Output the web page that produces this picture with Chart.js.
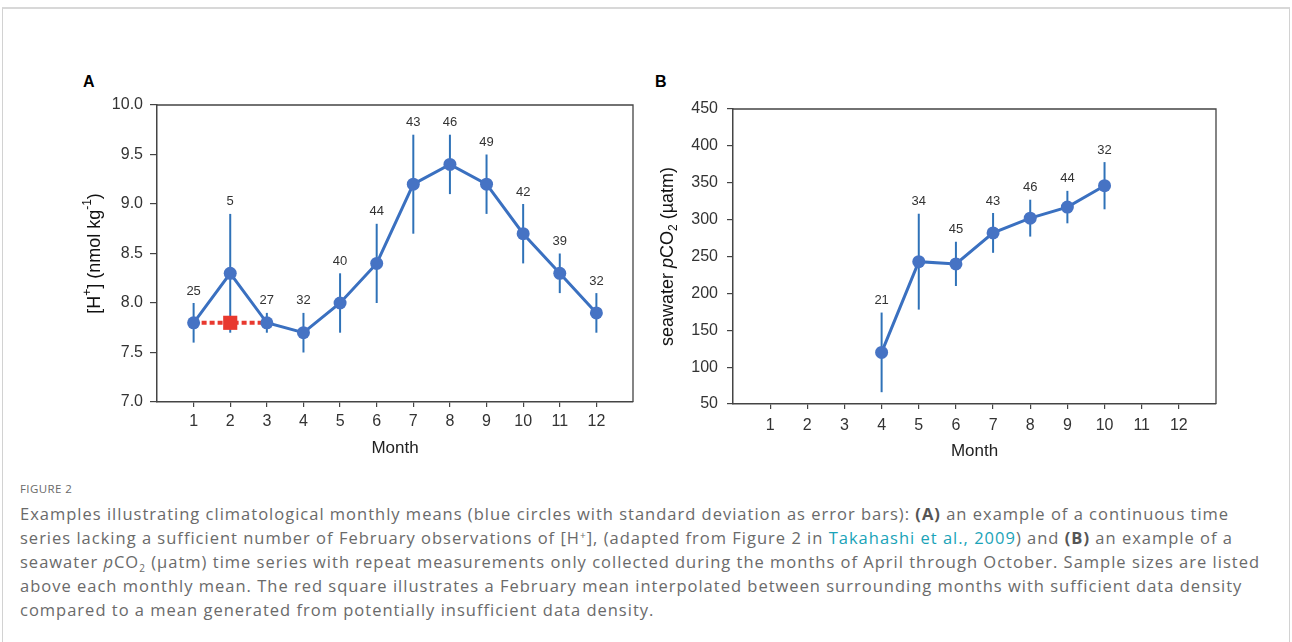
<!DOCTYPE html>
<html>
<head>
<meta charset="utf-8">
<script src="https://cdn.jsdelivr.net/npm/chart.js@4.4.1/dist/chart.umd.min.js"></script>
<style>
  body { margin:0; background:#fff; width:1292px; height:642px; overflow:hidden; position:relative;
         font-family:"Liberation Sans", Arial, sans-serif; }
  .frame { position:absolute; left:2px; top:7px; width:1286px; height:700px;
           border:1px solid #d2d2d2; border-top:2px solid #d8d8d8; }
  .wrap { position:absolute; top:85px; width:620px; height:385px; }
  .panel { position:absolute; top:73px; font-size:16px; font-weight:bold; color:#000; }
  .cap { position:absolute; left:20px; top:480px; color:#6a6a6a; font-family:"Open Sans", sans-serif; }
  .cap .fig { font-size:11.5px; letter-spacing:0.4px; line-height:18px; margin-bottom:4px; }
  .cap .ln { font-size:16.5px; letter-spacing:1px; line-height:24px; height:24px; white-space:nowrap; }
  .cap sup, .cap sub { font-size:10px; line-height:0; position:relative; vertical-align:baseline; }
  .cap sup { top:-0.5em; }
  .cap sub { top:0.35em; }
  .cap a { color:#1aa3b8; text-decoration:none; }
  .cap b { font-weight:bold; color:#555; }
</style>
</head>
<body>
<div class="frame"></div>
<div class="panel" style="left:83px">A</div>
<div class="panel" style="left:655px">B</div>
<div class="wrap" style="left:40px"><canvas id="chartA" width="620" height="385"></canvas></div>
<div class="wrap" style="left:640px"><canvas id="chartB" width="620" height="385"></canvas></div>
<div class="cap">
  <div class="fig">FIGURE 2</div>
  <div class="ln">Examples illustrating climatological monthly means (blue circles with standard deviation as error bars): <b>(A)</b> an example of a continuous time</div>
  <div class="ln">series lacking a sufficient number of February observations of [H<sup>+</sup>], (adapted from Figure 2 in <a>Takahashi et al., 2009</a>) and <b>(B)</b> an example of a</div>
  <div class="ln">seawater <i>p</i>CO<sub>2</sub> (µatm) time series with repeat measurements only collected during the months of April through October. Sample sizes are listed</div>
  <div class="ln">above each monthly mean. The red square illustrates a February mean interpolated between surrounding months with sufficient data density</div>
  <div class="ln">compared to a mean generated from potentially insufficient data density.</div>
</div>
<script>
// panel A: [H+] monthly means
const hMonths = [1,2,3,4,5,6,7,8,9,10,11,12];
const hMean   = [7.8,8.3,7.8,7.7,8.0,8.4,9.2,9.4,9.2,8.7,8.3,7.9];
const hSd     = [0.2,0.6,0.1,0.2,0.3,0.4,0.5,0.3,0.3,0.3,0.2,0.2];
const hCount  = [25,5,27,32,40,44,43,46,49,42,39,32];
// red square: interpolated February mean
const febMonths = [1,2,3];
const febInterp = [7.8,7.8,7.8];

// panel B: seawater pCO2 monthly means
const pMonths = [4,5,6,7,8,9,10];
const pMean   = [120,243,240,282,302,317,346];
const pSd     = [54,65,30,27,25,22,32];
const pCount  = [21,34,45,43,46,44,32];

const BLUE = '#3a70c0', DOT = '#4673c4', ERR = '#2f72b8', RED = '#e8392f', AX = '#444';
const FONT = '"Liberation Sans", Arial, sans-serif';

// error bars + sample size labels, drawn from the chart scales
function errPlugin(xs, means, sds, counts) {
  return {
    id: 'errbars',
    beforeDatasetsDraw(chart) {
      const {ctx, scales:{x, y}} = chart;
      ctx.save();
      ctx.strokeStyle = ERR; ctx.lineWidth = 2;
      xs.forEach((m, i) => {
        const px = x.getPixelForValue(m);
        ctx.beginPath();
        ctx.moveTo(px, y.getPixelForValue(means[i] - sds[i]));
        ctx.lineTo(px, y.getPixelForValue(means[i] + sds[i]));
        ctx.stroke();
      });
      ctx.fillStyle = '#333'; ctx.font = '13px ' + FONT;
      ctx.textAlign = 'center'; ctx.textBaseline = 'middle';
      xs.forEach((m, i) => {
        ctx.fillText(String(counts[i]), x.getPixelForValue(m), y.getPixelForValue(means[i] + sds[i]) - 12);
      });
      ctx.restore();
    },
    afterDraw(chart) {
      // top/right frame of the plot box
      const {ctx, chartArea:a} = chart;
      ctx.save();
      ctx.strokeStyle = AX; ctx.lineWidth = 1.3;
      ctx.beginPath();
      ctx.moveTo(a.left, a.top); ctx.lineTo(a.right, a.top); ctx.lineTo(a.right, a.bottom);
      ctx.stroke();
      ctx.restore();
    }
  };
}

// rotated y title with sub/superscripts and italics
function yTitlePlugin(cx, segs) {
  return {
    id: 'ytitle',
    afterDraw(chart) {
      const {ctx, chartArea:a} = chart;
      const cy = (a.top + a.bottom) / 2;
      ctx.save();
      const fontOf = s => (s.it ? 'italic ' : '') + (s.size || 18) + 'px ' + FONT;
      let total = 0;
      segs.forEach(s => { ctx.font = fontOf(s); total += ctx.measureText(s.t).width; });
      ctx.translate(cx, cy); ctx.rotate(-Math.PI / 2);
      ctx.fillStyle = '#111'; ctx.textBaseline = 'middle'; ctx.textAlign = 'left';
      let xx = -total / 2;
      segs.forEach(s => {
        ctx.font = fontOf(s);
        ctx.fillText(s.t, xx, s.dy || 0);
        xx += ctx.measureText(s.t).width;
      });
      ctx.restore();
    }
  };
}

function opts(c) {
  return {
    responsive: false, animation: false,
    layout: { padding: { top: c.padTop, right: c.padRight, left: 0, bottom: 0 } },
    plugins: { legend: { display: false }, tooltip: { enabled: false } },
    scales: {
      x: {
        type: 'linear', min: 0, max: 13,
        afterBuildTicks: s => { s.ticks = s.ticks.filter(t => t.value >= 1 && t.value <= 12); },
        afterFit: s => { s.height = c.xH; },
        ticks: { stepSize: 1, autoSkip: false, maxRotation: 0, padding: c.xPad,
                 font: { family: FONT, size: 16 }, color: '#333' },
        grid: { drawOnChartArea: false, tickLength: 5, color: AX, lineWidth: 1.2 },
        border: { color: AX, width: 1.5 },
        title: { display: true, text: 'Month', color: '#222', font: { family: FONT, size: 17 },
                 padding: { top: 0, bottom: c.titlePad } }
      },
      y: {
        min: c.yMin, max: c.yMax,
        afterFit: s => { s.width = c.yW; },
        ticks: { stepSize: c.step, padding: c.yPad, callback: c.fmt,
                 font: { family: FONT, size: 16 }, color: '#333' },
        grid: { drawOnChartArea: false, tickLength: c.yTick, color: AX, lineWidth: 1.2 },
        border: { color: AX, width: 1.5 }
      }
    }
  };
}

new Chart(document.getElementById('chartA'), {
  type: 'line',
  data: {
    datasets: [
      { data: hMonths.map((m, i) => ({ x: m, y: hMean[i] })),
        borderColor: BLUE, borderWidth: 3, pointRadius: 6.5, pointBackgroundColor: DOT,
        pointBorderWidth: 0, clip: false, order: 1 },
      { data: febMonths.map((m, i) => ({ x: m, y: febInterp[i] })),
        borderColor: RED, borderWidth: 4, borderDash: [5, 3],
        pointStyle: 'rect', pointRadius: [0, 10, 0], pointBackgroundColor: RED,
        pointBorderWidth: 0, clip: false, order: 2 }
    ]
  },
  options: opts({ padTop: 20, padRight: 27, xH: 68, xPad: 5, titlePad: 11, yW: 117,
                  yMin: 7, yMax: 10, step: 0.5, yPad: 7, yTick: 7, fmt: v => v.toFixed(1) }),
  plugins: [errPlugin(hMonths, hMean, hSd, hCount),
            yTitlePlugin(55, [{ t: '[H' }, { t: '+', size: 12, dy: -7 }, { t: '] (nmol kg' },
                              { t: '-1', size: 12, dy: -7 }, { t: ')' }])]
});

new Chart(document.getElementById('chartB'), {
  type: 'line',
  data: {
    datasets: [
      { data: pMonths.map((m, i) => ({ x: m, y: pMean[i] })),
        borderColor: BLUE, borderWidth: 3, pointRadius: 6.5, pointBackgroundColor: DOT,
        pointBorderWidth: 0, clip: false }
    ]
  },
  options: opts({ padTop: 24, padRight: 44, xH: 66, xPad: 7, titlePad: 8, yW: 93,
                  yMin: 50, yMax: 450, step: 50, yPad: 9, yTick: 6, fmt: v => String(v) }),
  plugins: [errPlugin(pMonths, pMean, pSd, pCount),
            yTitlePlugin(28, [{ t: 'seawater ' }, { t: 'p', it: true }, { t: 'CO' },
                              { t: '2', size: 12, dy: 6 }, { t: ' (µatm)' }])]
});
</script>
</body>
</html>
